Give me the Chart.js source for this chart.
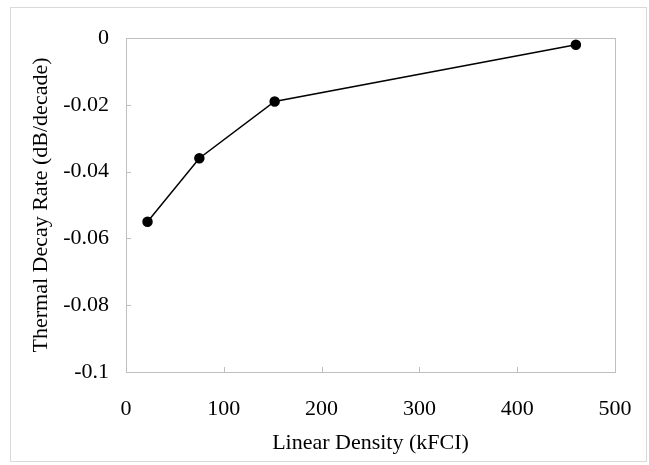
<!DOCTYPE html>
<html>
<head>
<meta charset="utf-8">
<script src="https://cdn.jsdelivr.net/npm/chart.js@4/dist/chart.umd.min.js"></script>
<style>
  html, body { margin: 0; padding: 0; background: #fff; }
  #wrap { width: 649px; height: 465px; position: relative; }
</style>
</head>
<body>
<div id="wrap"><canvas id="decay"></canvas></div>
<script>
// linear density (kFCI) vs thermal decay rate (dB/decade)
const density = [22, 75, 152, 460];
const decayRate = [-0.055, -0.036, -0.019, -0.002];
const xTicks = [0, 100, 200, 300, 400, 500];
const yTicks = [0, -0.02, -0.04, -0.06, -0.08, -0.1];

const FONT = "'Liberation Serif', 'Times New Roman', serif";
const FRAME = '#bfbfbf';

// frame, inward ticks and outer border
const framePlugin = {
  id: 'frame',
  beforeDraw(chart) {
    const ctx = chart.ctx;
    ctx.save();
    ctx.fillStyle = '#fff';
    ctx.fillRect(0, 0, chart.width, chart.height);
    ctx.strokeStyle = '#d9d9d9';
    ctx.lineWidth = 1;
    ctx.strokeRect(10.5, 7.5, chart.width - 13, chart.height - 11);
    ctx.restore();
  },
  beforeDatasetsDraw(chart) {
    const { ctx, chartArea: a, scales } = chart;
    ctx.save();
    ctx.strokeStyle = FRAME;
    ctx.lineWidth = 1;
    ctx.strokeRect(Math.round(a.left) + 0.5, Math.round(a.top) + 0.5,
      Math.round(a.right - a.left), Math.round(a.bottom - a.top));
    ctx.beginPath();
    xTicks.forEach(v => {
      const px = Math.round(scales.x.getPixelForValue(v)) + 0.5;
      ctx.moveTo(px, a.bottom);
      ctx.lineTo(px, a.bottom - 5);
    });
    yTicks.forEach(v => {
      const py = Math.round(scales.y.getPixelForValue(v)) + 0.5;
      ctx.moveTo(a.left, py);
      ctx.lineTo(a.left + 5, py);
    });
    ctx.stroke();
    ctx.restore();
  }
};

new Chart(document.getElementById('decay'), {
  type: 'line',
  data: {
    datasets: [{
      data: density.map((d, i) => ({ x: d, y: decayRate[i] })),
      borderColor: '#000',
      backgroundColor: '#000',
      borderWidth: 1.5,
      pointRadius: 4.5,
      pointHoverRadius: 4.5,
      tension: 0
    }]
  },
  options: {
    responsive: true,
    maintainAspectRatio: false,
    animation: false,
    layout: { padding: { top: 38, right: 34, left: 0, bottom: 0 } },
    plugins: { legend: { display: false }, tooltip: { enabled: false } },
    scales: {
      x: {
        type: 'linear',
        min: 0, max: 500,
        afterBuildTicks: s => { s.ticks = xTicks.map(v => ({ value: v })); },
        grid: { display: false, drawTicks: false },
        border: { display: false },
        ticks: { color: '#000', padding: 24, maxRotation: 0, font: { family: FONT, size: 22 } },
        title: { display: true, text: 'Linear Density (kFCI)', color: '#000',
          font: { family: FONT, size: 22 }, padding: { top: 0, bottom: 9 } },
        afterFit: s => { s.height = 93; s.paddingLeft = 0; s.paddingRight = 0; }
      },
      y: {
        type: 'linear',
        min: -0.1, max: 0,
        afterBuildTicks: s => { s.ticks = yTicks.map(v => ({ value: v })); },
        grid: { display: false, drawTicks: false },
        border: { display: false },
        ticks: { color: '#000', padding: 17, font: { family: FONT, size: 22 },
          callback: v => String(Math.round(v * 100) / 100) },
        title: { display: true, text: 'Thermal Decay Rate (dB/decade)', color: '#000',
          font: { family: FONT, size: 22 }, padding: { top: 28, bottom: 0 } },
        afterFit: s => { s.width = 126; s.paddingTop = 0; s.paddingBottom = 0; }
      }
    }
  },
  plugins: [framePlugin]
});
</script>
</body>
</html>
